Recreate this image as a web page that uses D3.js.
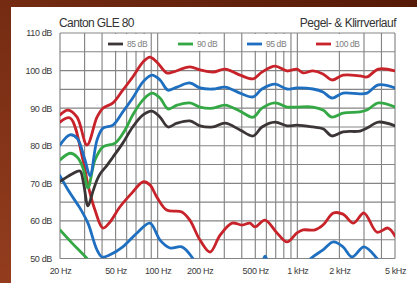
<!DOCTYPE html>
<html><head><meta charset="utf-8">
<script src="https://cdn.jsdelivr.net/npm/d3@7/dist/d3.min.js"></script>
<style>html,body{margin:0;padding:0;background:#7a2c12;overflow:hidden}svg{display:block}</style>
</head><body>
<script>
// ---- data ----
const title = "Canton GLE 80";
const subtitle = "Pegel- & Klirrverlauf";
const xTicks = [20,50,100,200,500,1000,2000,5000];
const xTickLabels = ["20 Hz","50 Hz","100 Hz","200 Hz","500 Hz","1 kHz","2 kHz","5 kHz"];
const yTicks = [50,60,70,80,90,100,110];
const yTickLabels = ["50 dB","60 dB","70 dB","80 dB","90 dB","100 dB","110 dB"];
const seriesNames = ["85 dB","90 dB","95 dB","100 dB"];

const level85 = [[20,70.5],[24.4,72.5],[27.8,73.3],[29.5,70],[31.7,64],[34.5,68],[36.8,70.9],[38.7,72.5],[43.4,74.8],[47.9,77],[56.3,80.7],[66.3,85],[78.6,88.2],[91,89.2],[104,87.6],[118.6,85],[137.6,86],[170,86.6],[201,85.3],[249,85],[304,86],[389,84.2],[482,82.6],[558,85],[692,86.3],[843,85.3],[994,85.5],[1294,85],[1526,84.5],[1770,82.6],[2122,83.7],[2809,83.9],[3152,84.7],[3805,86.3],[5000,85.3]];
const level90 = [[20,76.2],[23.6,78],[26.5,77],[29.2,74.1],[31.7,68.8],[35.6,76.2],[40.6,79.7],[49.5,80.7],[58.4,84.2],[66.3,88.2],[78.6,92.2],[91,94],[104,92.7],[118.6,89.8],[137.6,90.8],[170,91.4],[201,90.3],[249,90],[304,90.8],[389,89.2],[482,87.6],[558,90],[692,91.4],[843,90.3],[994,90.3],[1294,90.3],[1526,89.5],[1770,87.6],[2122,88.7],[2809,89],[3152,89.5],[3805,91.4],[5000,90.3]];
const level95 = [[20,80.2],[23.6,82.9],[26.5,82],[30.2,76.2],[32.8,72],[36.8,81.5],[40.6,84.7],[47.9,85.5],[56.3,89],[66.3,92.7],[78.6,97],[91,98.8],[104,97.5],[118.6,94.8],[137.6,95.6],[170,96.7],[201,95.4],[249,95.1],[304,95.6],[389,94],[482,93],[558,95.1],[692,96.4],[843,95.1],[994,95.4],[1294,95.1],[1526,94.3],[1770,92.7],[2122,94],[2809,93.8],[3152,94],[3805,96.2],[5000,95.4]];
const level100 = [[20,88.2],[22.8,89.5],[26.5,87.6],[31.2,80.2],[36.8,87.6],[40.6,90],[47.9,91.4],[56.3,94.8],[66.3,98.3],[78.6,102.3],[88,103.6],[98.5,102.3],[116,99.4],[128,99.6],[170,101],[201,100.2],[249,99.6],[304,100.4],[389,98.8],[482,97.8],[558,99.6],[692,101.2],[843,99.9],[994,100.4],[1098,99.4],[1294,99.9],[1526,99.1],[1770,97.5],[2122,98.8],[2809,98.6],[3152,98.3],[3805,100.4],[5000,99.9]];

const dist90 = [[20,57.6],[24.4,54.1],[31.2,50],[36,47]];
const dist95 = [[20,72],[23.6,67.4],[27.8,63.4],[31.7,59.4],[36.8,52.3],[40,50.4],[45.6,51],[56.3,53.1],[71.2,56.8],[88,59.4],[104,54.9],[122.6,52.8],[149,53.1],[179,50],[200,47],[400,45],[560,49.2],[587,50.6],[620,49],[800,45],[1100,47],[1232,49.8],[1526,52.3],[1812,54.4],[2122,53.1],[2462,50.4],[2998,53.1],[3717,50],[4200,47]];
const dist100 = [[20,86.3],[23.6,87.4],[29.2,76.2],[31.7,69.6],[35.6,62.9],[40.6,58.1],[45.6,59.7],[53.6,63.7],[65.3,67.4],[78.6,70.4],[88,69.6],[98.5,66.4],[116,62.9],[149,62.4],[170,60.2],[201,54.9],[237,51.7],[280,56.2],[341,59.4],[402,58.9],[458,59.4],[498,58.4],[587,60.2],[715,56.8],[843,54.4],[994,56.8],[1098,57.6],[1338,57.6],[1526,58.9],[1812,62.1],[2122,61.8],[2519,59.4],[2998,62.1],[3717,57],[4455,58.1],[5000,56]];

// ---- layout ----
const W = 417, H = 283;
const colors = ["#3b3536","#33a844","#1e6fc0","#c8232a"];
const svg = d3.select("body").append("svg").attr("width", W).attr("height", H);
const defs = svg.append("defs");
const grad = defs.append("linearGradient").attr("id","bg").attr("x1","0").attr("y1","1").attr("x2","1").attr("y2","0");
grad.append("stop").attr("offset","0").attr("stop-color","#943d1e");
grad.append("stop").attr("offset","1").attr("stop-color","#551a07");
svg.append("rect").attr("width",W).attr("height",H).attr("fill","url(#bg)");
svg.append("rect").attr("x",11).attr("y",7).attr("width",W-11).attr("height",H-7).attr("fill","#fff");

const x = d3.scaleLog().domain([20,5000]).range([60,395]);
const y = d3.scaleLinear().domain([50,110]).range([258.5,33]);

defs.append("clipPath").attr("id","clip").append("rect")
  .attr("x",x(20)).attr("y",y(110)).attr("width",x(5000)-x(20)).attr("height",y(50)-y(110));

const font = "'Liberation Sans', Arial, sans-serif";
const g = svg.append("g");

// grid
const vgrid = [];
for (let f=20; f<=100; f+=10) vgrid.push(f);
for (let f=200; f<=1000; f+=100) vgrid.push(f);
for (let f=2000; f<=5000; f+=1000) vgrid.push(f);
const hgrid = d3.range(50,110.1,5);
const gridColor = "#858585";
g.selectAll(".vg").data(vgrid).join("line")
  .attr("x1",d=>x(d)).attr("x2",d=>x(d)).attr("y1",y(110)).attr("y2",y(50))
  .attr("stroke",gridColor).attr("stroke-width",1.15);
g.selectAll(".hg").data(hgrid).join("line")
  .attr("x1",x(20)).attr("x2",x(5000)).attr("y1",d=>y(d)).attr("y2",d=>y(d))
  .attr("stroke",gridColor).attr("stroke-width",1.15);

// axis labels
const yAxis = d3.axisLeft(y).tickValues(yTicks).tickFormat((d,i)=>yTickLabels[i]).tickSize(0).tickPadding(8);
const ya = svg.append("g").attr("transform",`translate(${x(20)},0)`).call(yAxis);
ya.select(".domain").remove();
ya.selectAll("text").attr("font-family",font).attr("font-size",9).attr("letter-spacing",-0.35).attr("fill","#3a3a3a");
const xAxis = d3.axisBottom(x).tickValues(xTicks).tickFormat((d,i)=>xTickLabels[i]).tickSize(0).tickPadding(9);
const xa = svg.append("g").attr("transform",`translate(0,${y(50)})`).call(xAxis);
xa.select(".domain").remove();
xa.selectAll("text").attr("font-family",font).attr("font-size",9).attr("letter-spacing",-0.35).attr("fill","#3a3a3a");

// titles
svg.append("text").attr("x",59).attr("y",27).text(title)
  .attr("font-family",font).attr("font-size",12).attr("letter-spacing",-0.6).attr("fill","#333");
svg.append("text").attr("x",396).attr("y",27).attr("text-anchor","end").text(subtitle)
  .attr("font-family",font).attr("font-size",12).attr("letter-spacing",-0.5).attr("fill","#333");

// legend
const legX = [108,178,247,316];
const legY = 44;
seriesNames.forEach((n,i)=>{
  const lg = svg.append("g");
  lg.append("rect").attr("x",legX[i]-3).attr("y",y(110)+1).attr("width",n.length>5?48:44).attr("height",y(105)-y(110)-2).attr("fill","#fff");
  lg.append("line").attr("x1",legX[i]).attr("x2",legX[i]+15).attr("y1",legY).attr("y2",legY)
    .attr("stroke",colors[i]).attr("stroke-width",2.8);
  lg.append("text").attr("x",legX[i]+19).attr("y",legY+3).text(n)
    .attr("font-family",font).attr("font-size",8.5).attr("letter-spacing",-0.4).attr("fill","#808080");
});

// curves
const line = d3.line().x(d=>x(d[0])).y(d=>y(d[1])).curve(d3.curveCatmullRom.alpha(0.5));
const cg = svg.append("g").attr("clip-path","url(#clip)");
const curves = [
  [dist90,1],[dist95,2],[dist100,3],
  [level85,0],[level90,1],[level95,2],[level100,3]
];
curves.forEach(([data,ci])=>{
  cg.append("path").attr("d",line(data)).attr("fill","none")
    .attr("stroke",colors[ci]).attr("stroke-width",2.8).attr("stroke-linejoin","round").attr("stroke-linecap","round");
});
</script>
</body></html>
